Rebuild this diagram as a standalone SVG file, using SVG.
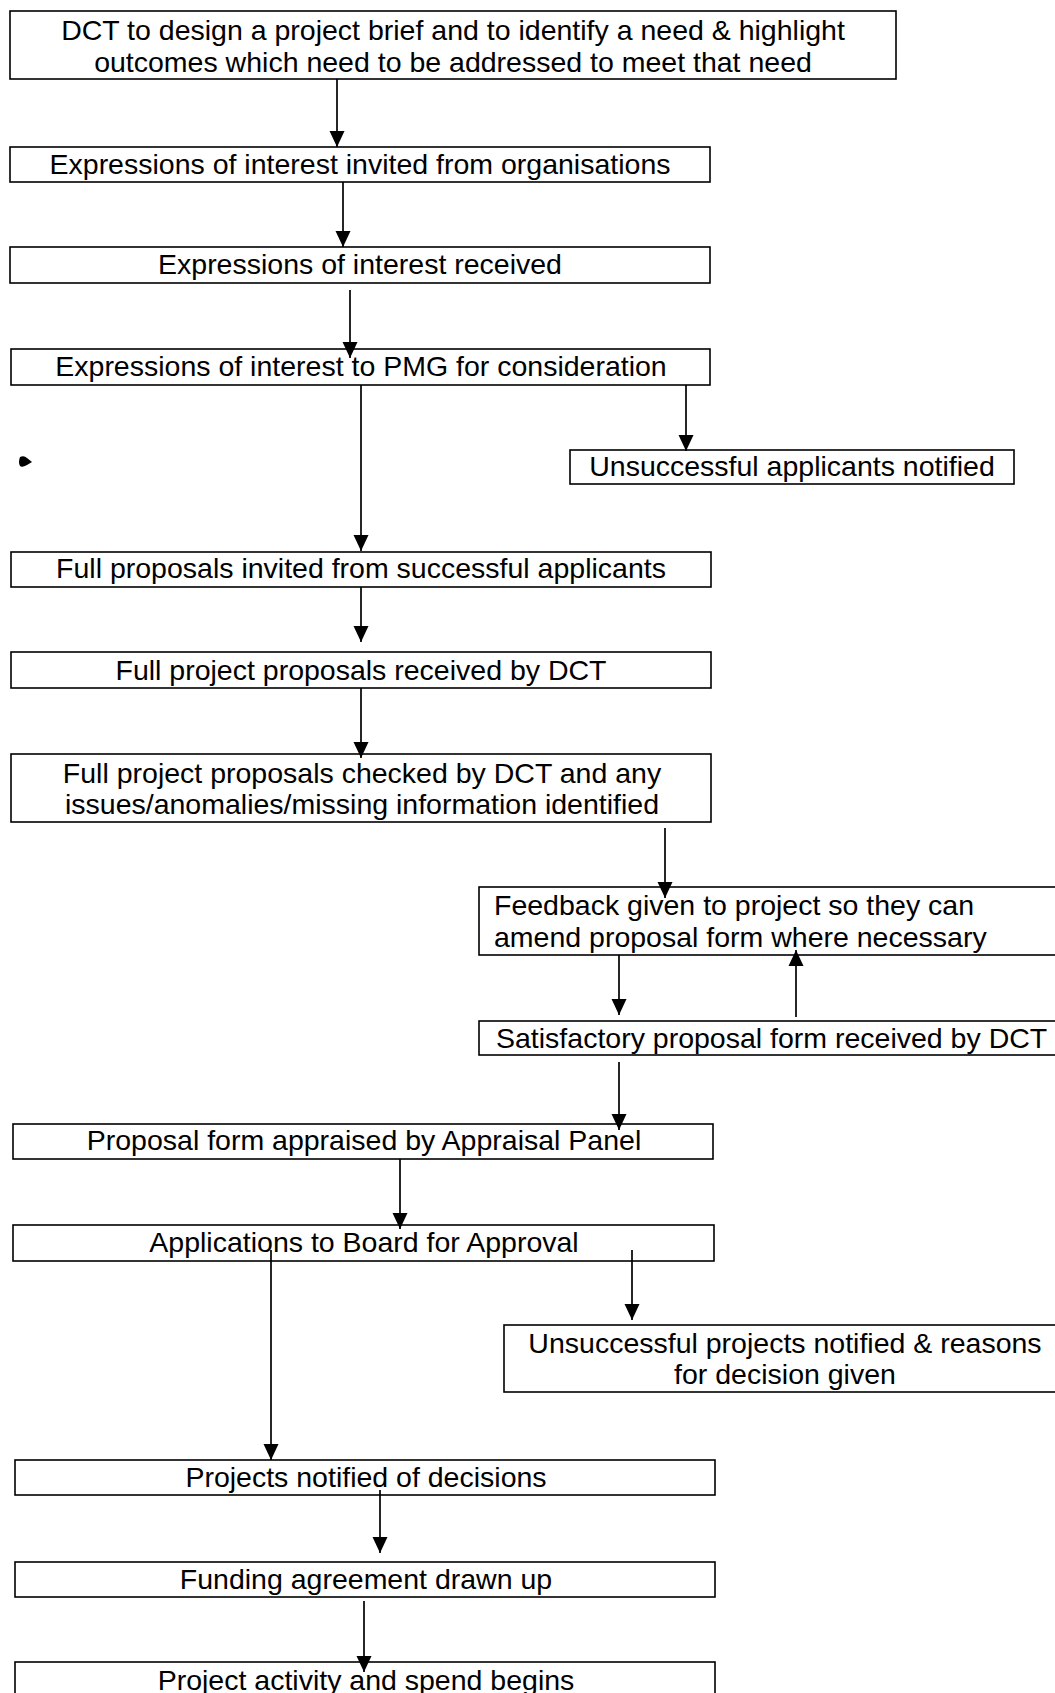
<svg xmlns="http://www.w3.org/2000/svg" width="1055" height="1693" viewBox="0 0 1055 1693">
<style>
.box{fill:#fff;stroke:#000;stroke-width:1.6}
.t{font-family:"Liberation Sans",Arial,sans-serif;font-size:28.5px;fill:#000;text-anchor:middle}
.tl{font-family:"Liberation Sans",Arial,sans-serif;font-size:28.5px;fill:#000}
.c{stroke:#000;stroke-width:1.7;fill:none}
</style>
<defs>
<marker id="ah" markerWidth="16" markerHeight="16" viewBox="0 0 16 16" refX="16" refY="8" orient="auto" markerUnits="userSpaceOnUse">
<path d="M0,0.5 L16,8 L0,15.5 Z" fill="#000"/>
</marker>
</defs>
<rect width="1055" height="1693" fill="#fff"/>
<g id="n1"><rect class="box" x="10" y="11" width="886" height="68"/>
<text class="t" x="453" y="40">DCT to design a project brief and to identify a need &amp; highlight</text>
<text class="t" x="453" y="72">outcomes which need to be addressed to meet that need</text></g>
<g id="n2"><rect class="box" x="10" y="147" width="700" height="35"/>
<text class="t" x="360" y="174">Expressions of interest invited from organisations</text></g>
<g id="n3"><rect class="box" x="10" y="247" width="700" height="36"/>
<text class="t" x="360" y="274">Expressions of interest received</text></g>
<g id="n4"><rect class="box" x="11" y="349" width="699" height="36"/>
<text class="t" x="361" y="376">Expressions of interest to PMG for consideration</text></g>
<g id="n5"><rect class="box" x="570" y="450" width="444" height="34"/>
<text class="t" x="792" y="476">Unsuccessful applicants notified</text></g>
<g id="n6"><rect class="box" x="11" y="552" width="700" height="35"/>
<text class="t" x="361" y="578">Full proposals invited from successful applicants</text></g>
<g id="n7"><rect class="box" x="11" y="652" width="700" height="36"/>
<text class="t" x="361" y="680">Full project proposals received by DCT</text></g>
<g id="n8"><rect class="box" x="11" y="754" width="700" height="68"/>
<text class="t" x="362" y="783">Full project proposals checked by DCT and any</text>
<text class="t" x="362" y="814">issues/anomalies/missing information identified</text></g>
<g id="n9"><rect class="box" x="479" y="887" width="600" height="68"/>
<text class="tl" x="494" y="915">Feedback given to project so they can</text>
<text class="tl" x="494" y="947">amend proposal form where necessary</text></g>
<g id="n10"><rect class="box" x="479" y="1021" width="600" height="34"/>
<text class="tl" x="496" y="1048">Satisfactory proposal form received by DCT</text></g>
<g id="n11"><rect class="box" x="13" y="1124" width="700" height="35"/>
<text class="t" x="364" y="1150">Proposal form appraised by Appraisal Panel</text></g>
<g id="n12"><rect class="box" x="13" y="1225" width="701" height="36"/>
<text class="t" x="364" y="1252">Applications to Board for Approval</text></g>
<g id="n13"><rect class="box" x="504" y="1325" width="600" height="67"/>
<text class="t" x="785" y="1353">Unsuccessful projects notified &amp; reasons</text>
<text class="t" x="785" y="1384">for decision given</text></g>
<g id="n14"><rect class="box" x="15" y="1460" width="700" height="35"/>
<text class="t" x="366" y="1487">Projects notified of decisions</text></g>
<g id="n15"><rect class="box" x="15" y="1562" width="700" height="35"/>
<text class="t" x="366" y="1589">Funding agreement drawn up</text></g>
<g id="n16"><rect class="box" x="15" y="1662" width="700" height="60"/>
<text class="t" x="366" y="1690">Project activity and spend begins</text></g>
<g id="mark"><path d="M20,457 Q24,455 27,458 L32,462 L27,465 Q22,468 20,466 Q18,462 20,457 Z" fill="#000"/></g>
<g id="connectors">
<line class="c" x1="337" y1="79" x2="337" y2="147" marker-end="url(#ah)"/>
<line class="c" x1="343" y1="182" x2="343" y2="247" marker-end="url(#ah)"/>
<line class="c" x1="350" y1="290" x2="350" y2="358" marker-end="url(#ah)"/>
<line class="c" x1="686" y1="385" x2="686" y2="451" marker-end="url(#ah)"/>
<line class="c" x1="361" y1="385" x2="361" y2="551" marker-end="url(#ah)"/>
<line class="c" x1="361" y1="587" x2="361" y2="642" marker-end="url(#ah)"/>
<line class="c" x1="361" y1="688" x2="361" y2="758" marker-end="url(#ah)"/>
<line class="c" x1="665" y1="828" x2="665" y2="898" marker-end="url(#ah)"/>
<line class="c" x1="619" y1="955" x2="619" y2="1015" marker-end="url(#ah)"/>
<line class="c" x1="796" y1="1017" x2="796" y2="950" marker-end="url(#ah)"/>
<line class="c" x1="619" y1="1062" x2="619" y2="1130" marker-end="url(#ah)"/>
<line class="c" x1="400" y1="1159" x2="400" y2="1229" marker-end="url(#ah)"/>
<line class="c" x1="632" y1="1250" x2="632" y2="1320" marker-end="url(#ah)"/>
<line class="c" x1="271" y1="1250" x2="271" y2="1460" marker-end="url(#ah)"/>
<line class="c" x1="380" y1="1490" x2="380" y2="1553" marker-end="url(#ah)"/>
<line class="c" x1="364" y1="1601" x2="364" y2="1672" marker-end="url(#ah)"/>
</g>
</svg>
